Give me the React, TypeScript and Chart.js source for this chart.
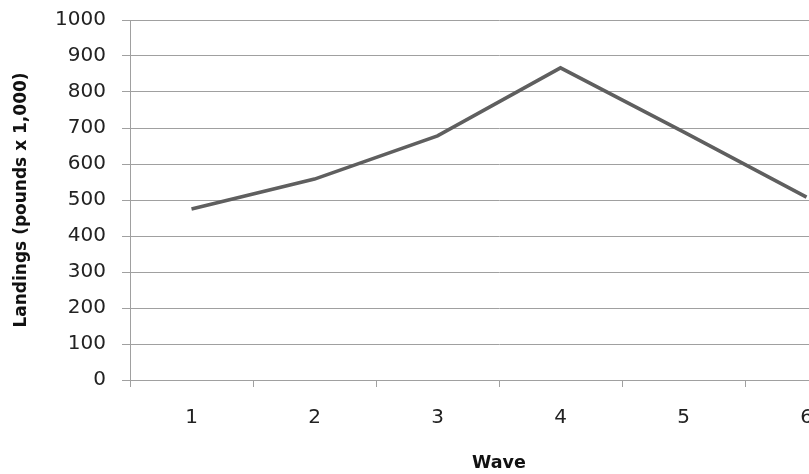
import React, { useEffect, useRef } from "react";
import { Chart, registerables } from "chart.js";

Chart.register(...registerables);

const waves: string[] = ["1", "2", "3", "4", "5", "6"];
const landings: number[] = [475, 558, 678, 867, 689, 508];
const yTitle = "Landings (pounds x 1,000)";
const xTitle = "Wave";

export default function App() {
  const ref = useRef<HTMLCanvasElement | null>(null);

  useEffect(() => {
    if (!ref.current) return;
    const grid = "#a0a0a0";
    const chart = new Chart(ref.current, {
      type: "line",
      data: {
        labels: waves,
        datasets: [
          {
            data: landings,
            borderColor: "#5f5f5f",
            borderWidth: 3.6,
            pointRadius: 0,
            tension: 0,
            fill: false,
          },
        ],
      },
      options: {
        responsive: false,
        animation: false,
        layout: { padding: { top: 20, right: 12, left: 0, bottom: 0 } },
        plugins: { legend: { display: false }, tooltip: { enabled: false } },
        scales: {
          x: {
            type: "category",
            offset: true,
            grid: {
              offset: true,
              drawOnChartArea: false,
              drawTicks: true,
              tickLength: 7,
              color: grid,
            },
            border: { display: true, color: grid },
            ticks: {
              color: "#222",
              padding: 19,
              font: { family: "DejaVu Sans", size: 20 },
              maxRotation: 0,
            },
            title: {
              display: true,
              text: xTitle,
              color: "#111",
              font: { family: "DejaVu Sans", size: 17.5, weight: "bold" },
              padding: { top: 0, bottom: 0 },
            },
            afterFit: (s: any) => {
              s.height = 94;
              s.paddingLeft = 0;
              s.paddingRight = 0;
            },
          },
          y: {
            min: 0,
            max: 1000,
            grid: { color: grid, tickLength: 8, drawTicks: true },
            border: { display: true, color: grid },
            ticks: {
              stepSize: 100,
              color: "#222",
              padding: 16,
              font: { family: "DejaVu Sans", size: 20 },
              callback: (v: any) => String(v),
            },
            title: {
              display: true,
              text: yTitle,
              color: "#111",
              font: { family: "DejaVu Sans", size: 17, weight: "bold" },
              padding: { top: 11, bottom: 0 },
            },
            afterFit: (s: any) => {
              s.width = 130;
              s.paddingTop = 0;
              s.paddingBottom = 0;
            },
          },
        },
      },
    });
    return () => chart.destroy();
  }, []);

  return (
    <div
      style={{
        position: "absolute",
        left: 0,
        top: 0,
        width: 809,
        height: 474,
        overflow: "hidden",
        background: "#fff",
      }}
    >
      <canvas ref={ref} width={880} height={474} style={{ display: "block" }} />
    </div>
  );
}
